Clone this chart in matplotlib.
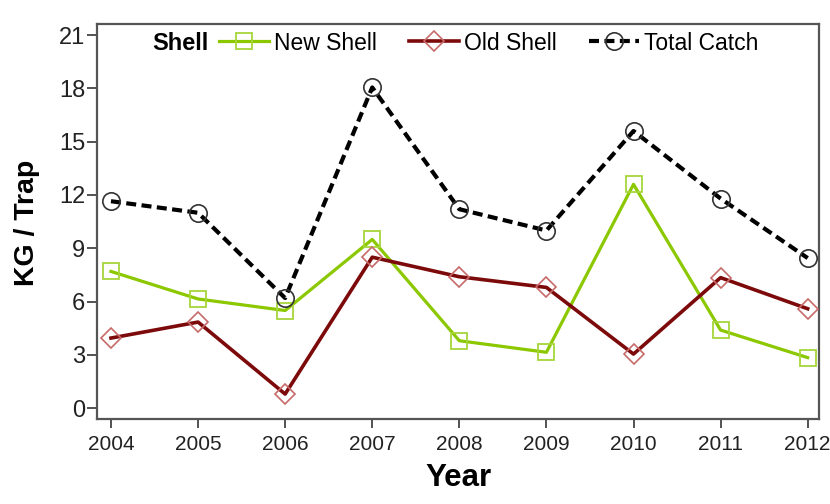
import matplotlib
matplotlib.use("Agg")
import matplotlib.pyplot as plt
from matplotlib import font_manager
from matplotlib.lines import Line2D

years = [2004, 2005, 2006, 2007, 2008, 2009, 2010, 2011, 2012]
new_shell = [7.7, 6.15, 5.5, 9.5, 3.8, 3.15, 12.6, 4.4, 2.85]
old_shell = [3.95, 4.85, 0.8, 8.5, 7.4, 6.8, 3.05, 7.35, 5.6]
total_catch = [11.65, 11.0, 6.2, 18.05, 11.2, 10.0, 15.6, 11.8, 8.45]
y_ticks = [0, 3, 6, 9, 12, 15, 18, 21]
series_labels = ["New Shell", "Old Shell", "Total Catch"]

names = {f.name for f in font_manager.fontManager.ttflist}
base_font = "Liberation Sans" if "Liberation Sans" in names else "DejaVu Sans"
plt.rcParams['font.family'] = [base_font, 'DejaVu Sans']

W, H = 830, 504
fig = plt.figure(figsize=(W / 100, H / 100), dpi=100)
ax = fig.add_axes([97.3 / W, 1 - 419.3 / H, (819 - 97.3) / W, (419.3 - 24) / H])

green = "#8cc800"
green_m = "#a6d63a"
red = "#7d0a0a"
red_m = "#c86a6a"
dash = (0, (2.4, 1.3))

style_new = dict(color=green, lw=2.3, marker='s', ms=12, mfc='none', mec=green_m, mew=1.3)
style_old = dict(color=red, lw=2.6, marker='D', ms=10, mfc='none', mec=red_m, mew=1.2)
style_tot = dict(color='black', lw=3.0, ls=dash, marker='o', ms=12.5, mfc='none',
                 mec='#333333', mew=1.2)

ax.plot(years, new_shell, zorder=3, **style_new)
ax.plot(years, old_shell, zorder=3, **style_old)
ax.plot(years, total_catch, zorder=4, **style_tot)

ax.set_xlim(2003.843, 2012.13)
ax.set_ylim(-0.62, 21.62)
ax.set_yticks(y_ticks)
ax.set_xticks(years)
ax.set_xticklabels([str(y) for y in years], fontsize=15)
ax.set_yticklabels([str(v) for v in y_ticks], fontsize=17)
ax.tick_params(axis='both', direction='out', width=1.3, color='#444444',
               labelcolor='#222222')
ax.tick_params(axis='x', length=6.5, pad=5)
ax.tick_params(axis='y', length=7, pad=1.5)
for s in ax.spines.values():
    s.set_color('#555555')
    s.set_linewidth(1.6)

ax.set_ylabel("KG / Trap", fontsize=20.5, fontweight='bold')
ax.yaxis.set_label_coords(27 / W, 1 - 223 / H, transform=fig.transFigure)
ax.yaxis.label.set_va('center')
ax.set_xlabel("Year", fontsize=22.5, fontweight='bold')
ax.xaxis.set_label_coords(458 / W, 1 - 478 / H, transform=fig.transFigure)
ax.xaxis.label.set_va('center')

handles = [Line2D([], [], **style_new), Line2D([], [], **style_old),
           Line2D([], [], **style_tot)]
leg = fig.legend(handles, series_labels, ncol=3, loc='center left',
                 bbox_to_anchor=(219 / W, 1 - 43 / H), bbox_transform=fig.transFigure,
                 frameon=False, fontsize=16.5, handlelength=2.2, handletextpad=0.2,
                 columnspacing=1.4, borderpad=0, borderaxespad=0)
fig.text(152 / W, 1 - 43 / H, "Shell", fontsize=17, fontweight='bold',
         va='center', ha='left')

fig.savefig("out.png", dpi=100)
